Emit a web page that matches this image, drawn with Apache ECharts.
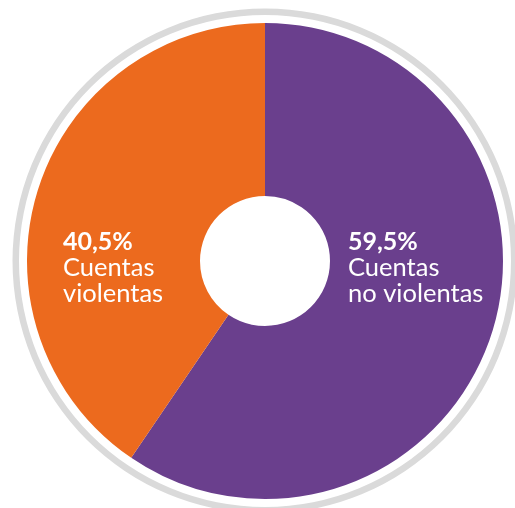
<!DOCTYPE html>
<html>
<head>
<meta charset="utf-8">
<script src="https://cdn.jsdelivr.net/npm/echarts@6/dist/echarts.min.js"></script>
<style>
  html, body { margin: 0; padding: 0; background: #ffffff; }
  #chart { width: 515px; height: 508px; }
</style>
</head>
<body>
<div id="chart"></div>
<script>
// Share of accounts by type
const categories = ['Cuentas\nno violentas', 'Cuentas\nviolentas'];
const shares = [59.5, 40.5];
const colors = ['#6a3f8d', '#ec6a1e'];

// Label anchor positions (top-left of each text block)
const labelAnchors = [[348, 229], [63, 229]];

const fmtPct = v => v.toFixed(1).replace('.', ',') + '%';

const chart = echarts.init(document.getElementById('chart'), null, { renderer: 'canvas' });

const CX = 265, CY = 261;

chart.setOption({
  animation: false,
  graphic: [{
    type: 'ring',
    silent: true,
    shape: { cx: CX, cy: CY, r: 252.5, r0: 246 },
    style: { fill: '#dadada' },
    z: -1
  }],
  series: [{
    type: 'pie',
    center: [CX, CY],
    radius: [65, 238],
    startAngle: 90,
    clockwise: true,
    silent: true,
    itemStyle: { borderWidth: 0 },
    data: categories.map((c, i) => ({
      name: c,
      value: shares[i],
      itemStyle: { color: colors[i] }
    })),
    label: {
      show: true,
      position: 'inside',
      color: '#ffffff',
      align: 'left',
      formatter: p => '{p|' + fmtPct(p.value) + '}\n{t|' + p.name.split('\n').join('}\n{t|') + '}',
      rich: {
        p: { fontFamily: 'Lato', fontWeight: 'bold', fontSize: 25, lineHeight: 26, color: '#ffffff' },
        t: { fontFamily: 'Lato', fontWeight: 'normal', fontSize: 25.5, lineHeight: 26, color: '#ffffff' }
      }
    },
    labelLine: { show: false },
    labelLayout: p => ({
      x: labelAnchors[p.dataIndex][0],
      y: labelAnchors[p.dataIndex][1],
      align: 'left',
      verticalAlign: 'top'
    })
  }]
});
</script>
</body>
</html>
